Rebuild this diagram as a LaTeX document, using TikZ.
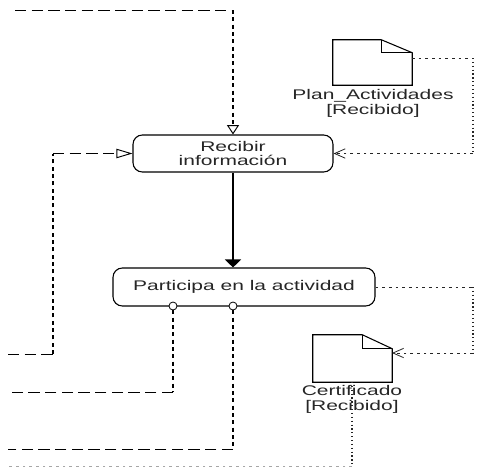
\documentclass[tikz,border=0pt]{standalone}
\usepackage{fontspec}
\newfontfamily\dfont[FakeStretch=1.5]{Liberation Sans}
\usetikzlibrary{arrows.meta}
\begin{document}
\begin{tikzpicture}[x=0.75pt,y=-0.75pt,
  act/.style={draw, line width=0.8pt, rounded corners=7pt, inner sep=0pt, align=center,
    font=\dfont\fontsize{10.5}{11}\selectfont, text=black!85},
  lbl/.style={inner sep=0pt, align=center, font=\dfont\fontsize{10.5}{11}\selectfont, text=black!85},
  docshape/.style={line width=0.8pt},
  hd/.style={line width=0.7pt, dash pattern=on 8.5pt off 4pt},
  vd/.style={line width=1.2pt, dash pattern=on 3pt off 2.5pt},
  ht/.style={line width=0.6pt, dash pattern=on 2pt off 3pt, black!85},
  vt/.style={line width=1pt, dash pattern=on 0.9pt off 2pt, black!85},
  opentri/.style={-{Triangle[open, length=7pt, width=9pt, line width=0.7pt]}},
  longtri/.style={-{Triangle[open, length=12pt, width=7pt, line width=0.7pt]}},
  vee/.style={-{Straight Barb[length=8pt, width=7pt, line width=0.6pt]}},
  solidarrow/.style={line width=0.9pt, -{Triangle[length=6pt, width=12pt]}},
  port/.style={circle, draw, fill=white, inner sep=0pt, minimum size=6pt, line width=0.6pt}
]
\useasboundingbox (0,0) rectangle (479,468);

% activities
\node[act, minimum width=150pt, minimum height=27.75pt] (rec) at (233,153.5) {Recibir\\información};
\node[act, minimum width=196.5pt, minimum height=28.5pt] (part) at (244,287) {Participa en la actividad};

% documents
\node[inner sep=0pt, minimum width=59.25pt, minimum height=33.75pt] (plan) at (372.5,62.5) {};
\draw[docshape] (plan.south west) -- (plan.north west) -- ([xshift=-23.25pt]plan.north east)
  -- ([yshift=-9.75pt]plan.north east) -- (plan.south east) -- cycle;
\draw[docshape] ([xshift=-23.25pt]plan.north east) -- ([xshift=-23.25pt,yshift=-9.75pt]plan.north east)
  -- ([yshift=-9.75pt]plan.north east);
\node[lbl, anchor=north] (planl) at (373,89) {Plan\_Actividades\\{[Recibido]}};

\node[inner sep=0pt, minimum width=59.25pt, minimum height=35.25pt] (cert) at (352.5,358.5) {};
\draw[docshape] (cert.south west) -- (cert.north west) -- ([xshift=-22.5pt]cert.north east)
  -- ([yshift=-10.5pt]cert.north east) -- (cert.south east) -- cycle;
\draw[docshape] ([xshift=-22.5pt]cert.north east) -- ([xshift=-22.5pt,yshift=-10.5pt]cert.north east)
  -- ([yshift=-10.5pt]cert.north east);

% corner coordinates
\coordinate (t0) at (15,10);
\coordinate (t1) at (233,10);
\coordinate (p0) at (412,58);
\coordinate (p1) at (473,58);
\coordinate (p2) at (473,153.5);
\coordinate (l0) at (8,354);
\coordinate (l1) at (53,354);
\coordinate (l2) at (53,153.5);
\coordinate (a0) at (8,392);
\coordinate (a1) at (173,392);
\coordinate (b0) at (8,449);
\coordinate (b1) at (233,449);
\coordinate (r1) at (473,287);
\coordinate (r2) at (473,353);
\coordinate (ctip) at (392,353);
\coordinate (cb) at (352,382);
\coordinate (cd) at (352,466);
\coordinate (z0) at (8,466);

% top incoming flow
\draw[hd] (t0) -- (t1);
\draw[vd, opentri] (t1) -- (rec.north);

% Plan_Actividades object flow
\draw[ht] (p0) -- (p1);
\draw[vt] (p1) -- (p2);
\draw[ht, vee] (p2) -- (rec.east);

% left incoming flow
\draw[hd] (l0) -- (l1);
\draw[vd] (l1) -- (l2);
\draw[hd, longtri] (l2) -- (rec.west);

% control flow
\draw[solidarrow] (rec.south) -- (rec.south |- part.north);

% ports
\node[port] (c1) at (173,306) {};
\node[port] (c2) at (233,306) {};

% outgoing from ports
\draw[vd] (c1.south) -- (a1);
\draw[hd] (a1) -- (a0);
\draw[vd] (c2.south) -- (b1);
\draw[hd] (b1) -- (b0);

% Certificado object flow
\draw[ht] (part.east) -- (r1);
\draw[vt] (r1) -- (r2);
\draw[ht, vee] (r2) -- (ctip);
\draw[vt] (cb) -- (cd);
\draw[ht, black!35] (cd) -- (z0);

\node[lbl, anchor=north] (certl) at (352,385) {Certificado\\{[Recibido]}};
\end{tikzpicture}
\end{document}
